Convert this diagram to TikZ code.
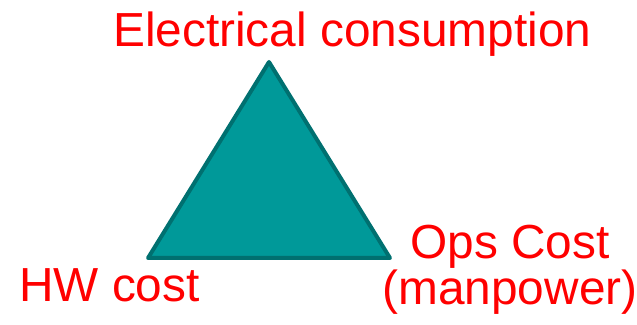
\documentclass[tikz,border=0pt]{standalone}
\usepackage{fontspec}
\setmainfont{Liberation Sans}
\usepackage{xcolor}
\usetikzlibrary{positioning}
\definecolor{tealfill}{RGB}{0,153,153}
\definecolor{tealedge}{RGB}{0,112,112}
\definecolor{labelred}{RGB}{255,0,0}

\begin{document}
\begin{tikzpicture}[x=1pt,y=1pt,
lbl/.style={text=labelred,inner sep=0pt,font=\fontsize{47.8}{46}\selectfont},
tri/.style={draw=tealedge,fill=tealfill,line width=4pt,line join=round}]
\useasboundingbox (0,0) rectangle (637,324);
\coordinate (top) at (269,262);
\coordinate (left) at (148,66);
\coordinate (right) at (390,66);
\draw[tri] (top)--(left)--(right)--cycle;
\node[lbl,anchor=base west] (elec) at (113,277.3) {Electrical consumption};
\node[lbl,anchor=base west] (hw) at (19,22.3) {HW cost};
\node[lbl,anchor=base,align=center] (ops) at (510,19.7) {Ops Cost\\(manpower)};
\end{tikzpicture}
\end{document}
